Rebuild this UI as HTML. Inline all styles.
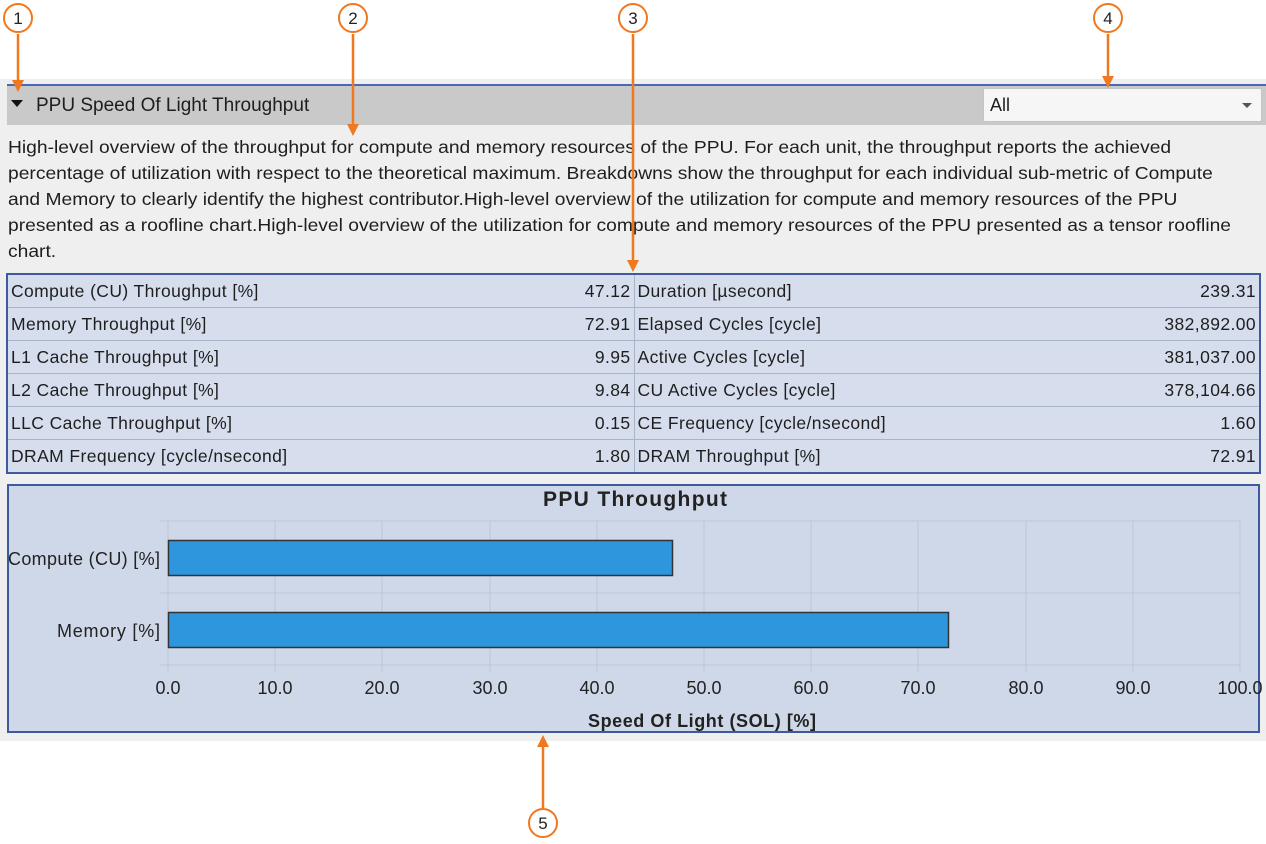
<!DOCTYPE html>
<html><head><meta charset="utf-8"><style>
body{margin:0;width:1266px;height:844px;background:#fff;position:relative;overflow:hidden;font-family:"Liberation Sans","DejaVu Sans",sans-serif;color:#1e1e1e}
.abs{position:absolute}
#panel{left:0;top:79px;width:1266px;height:662px;background:#efefef}
#hdr{left:7px;top:84px;width:1259px;height:41px;background:#c9c9c9;border-top:2px solid #4a68b8;box-sizing:border-box}
#dd{left:983px;top:88px;width:279px;height:34px;background:#f6f6f6;border:1px solid #c4c4c4;box-sizing:border-box;border-radius:2px}
.desc{left:8px;top:134px;font-size:17.5px;line-height:26px;white-space:nowrap;transform:scaleX(1.1);transform-origin:0 0}
table{position:absolute;left:6px;top:273px;width:1255px;border-collapse:collapse;border:2px solid #3d5a9e;font-size:17.5px;letter-spacing:0.4px;table-layout:fixed}
td{height:32px;border-top:1px solid #aab4c8;border-bottom:1px solid #aab4c8;padding:0 3px;background:#d6deee;white-space:nowrap;overflow:visible}
td.v{text-align:right}
td.m{border-right:1px solid #aab4c8}
#chart{left:7px;top:484px;width:1253px;height:249px;background:#cfd8e8;border:2px solid #3d5a9e;box-sizing:border-box}
.circ{position:absolute;width:30px;height:30px;border:2px solid #f07820;border-radius:50%;background:#fff;box-sizing:border-box;text-align:center;line-height:27px;font-size:17px;color:#222}
</style></head><body>
<div id="panel" class="abs"></div>
<div id="hdr" class="abs"></div>
<div class="abs" style="left:11px;top:100px;width:0;height:0;border-left:6px solid transparent;border-right:6px solid transparent;border-top:7px solid #111"></div>
<div class="abs" style="left:36px;top:95px;font-size:19px">PPU Speed Of Light Throughput</div>
<div id="dd" class="abs"><span style="position:absolute;left:6px;top:6px;font-size:18px">All</span><span style="position:absolute;right:9px;top:14px;border-left:5px solid transparent;border-right:5px solid transparent;border-top:5px solid #555"></span></div>
<div class="abs desc">High-level overview of the throughput for compute and memory resources of the PPU. For each unit, the throughput reports the achieved<br>percentage of utilization with respect to the theoretical maximum. Breakdowns show the throughput for each individual sub-metric of Compute<br>and Memory to clearly identify the highest contributor.High-level overview of the utilization for compute and memory resources of the PPU<br>presented as a roofline chart.High-level overview of the utilization for compute and memory resources of the PPU presented as a tensor roofline<br>chart.</div>
<table>
<colgroup><col style="width:560px"><col style="width:67px"><col style="width:460px"><col></colgroup>
<tr><td>Compute (CU) Throughput [%]</td><td class="v m">47.12</td><td>Duration [µsecond]</td><td class="v">239.31</td></tr>
<tr><td>Memory Throughput [%]</td><td class="v m">72.91</td><td>Elapsed Cycles [cycle]</td><td class="v">382,892.00</td></tr>
<tr><td>L1 Cache Throughput [%]</td><td class="v m">9.95</td><td>Active Cycles [cycle]</td><td class="v">381,037.00</td></tr>
<tr><td>L2 Cache Throughput [%]</td><td class="v m">9.84</td><td>CU Active Cycles [cycle]</td><td class="v">378,104.66</td></tr>
<tr><td>LLC Cache Throughput [%]</td><td class="v m">0.15</td><td>CE Frequency [cycle/nsecond]</td><td class="v">1.60</td></tr>
<tr><td>DRAM Frequency [cycle/nsecond]</td><td class="v m">1.80</td><td>DRAM Throughput [%]</td><td class="v">72.91</td></tr>
</table>
<div id="chart" class="abs"></div>
<svg class="abs" style="left:0;top:0" width="1266" height="844" font-family="Liberation Sans, sans-serif">
<text x="543" y="506" textLength="184" font-size="21" font-weight="bold" fill="#222">PPU Throughput</text>
<g stroke="#bcc6d8" stroke-width="1">
<line x1="168" y1="521" x2="1240" y2="521"/><line x1="160" y1="593" x2="1240" y2="593"/><line x1="160" y1="665" x2="1240" y2="665"/>
<line x1="275" y1="521" x2="275" y2="672"/><line x1="382" y1="521" x2="382" y2="672"/><line x1="490" y1="521" x2="490" y2="672"/><line x1="597" y1="521" x2="597" y2="672"/><line x1="704" y1="521" x2="704" y2="672"/><line x1="811" y1="521" x2="811" y2="672"/><line x1="918" y1="521" x2="918" y2="672"/><line x1="1026" y1="521" x2="1026" y2="672"/><line x1="1133" y1="521" x2="1133" y2="672"/><line x1="1240" y1="521" x2="1240" y2="672"/>
<line x1="168" y1="521" x2="168" y2="672"/><line x1="160" y1="521" x2="168" y2="521"/>
</g>
<rect x="168.5" y="540.5" width="504" height="35" fill="#2e96dc" stroke="#333" stroke-width="1.5"/>
<rect x="168.5" y="612.5" width="780" height="35" fill="#2e96dc" stroke="#333" stroke-width="1.5"/>
<g font-size="18" fill="#222"><text x="8" y="565" textLength="152">Compute (CU) [%]</text><text x="57" y="637" textLength="103">Memory [%]</text></g>
<g font-size="18" fill="#222" text-anchor="middle">
<text x="168" y="694">0.0</text><text x="275" y="694">10.0</text><text x="382" y="694">20.0</text><text x="490" y="694">30.0</text><text x="597" y="694">40.0</text><text x="704" y="694">50.0</text><text x="811" y="694">60.0</text><text x="918" y="694">70.0</text><text x="1026" y="694">80.0</text><text x="1133" y="694">90.0</text><text x="1240" y="694">100.0</text>
</g>
<text x="588" y="727" textLength="228" font-size="18" font-weight="bold" fill="#222">Speed Of Light (SOL) [%]</text>
<g stroke="#f07820" stroke-width="2.5" fill="#f07820">
<line x1="18" y1="34" x2="18" y2="82"/><polygon points="12,80 24,80 18,92" stroke="none"/>
<line x1="353" y1="34" x2="353" y2="126"/><polygon points="347,124 359,124 353,136" stroke="none"/>
<line x1="633" y1="34" x2="633" y2="262"/><polygon points="627,260 639,260 633,272" stroke="none"/>
<line x1="1108" y1="34" x2="1108" y2="78"/><polygon points="1102,76 1114,76 1108,88" stroke="none"/>
<line x1="543" y1="808" x2="543" y2="745"/><polygon points="537,747 549,747 543,735" stroke="none"/>
</g>
</svg>
<div class="circ" style="left:3px;top:3px">1</div>
<div class="circ" style="left:338px;top:3px">2</div>
<div class="circ" style="left:618px;top:3px">3</div>
<div class="circ" style="left:1093px;top:3px">4</div>
<div class="circ" style="left:528px;top:808px">5</div>
</body></html>
